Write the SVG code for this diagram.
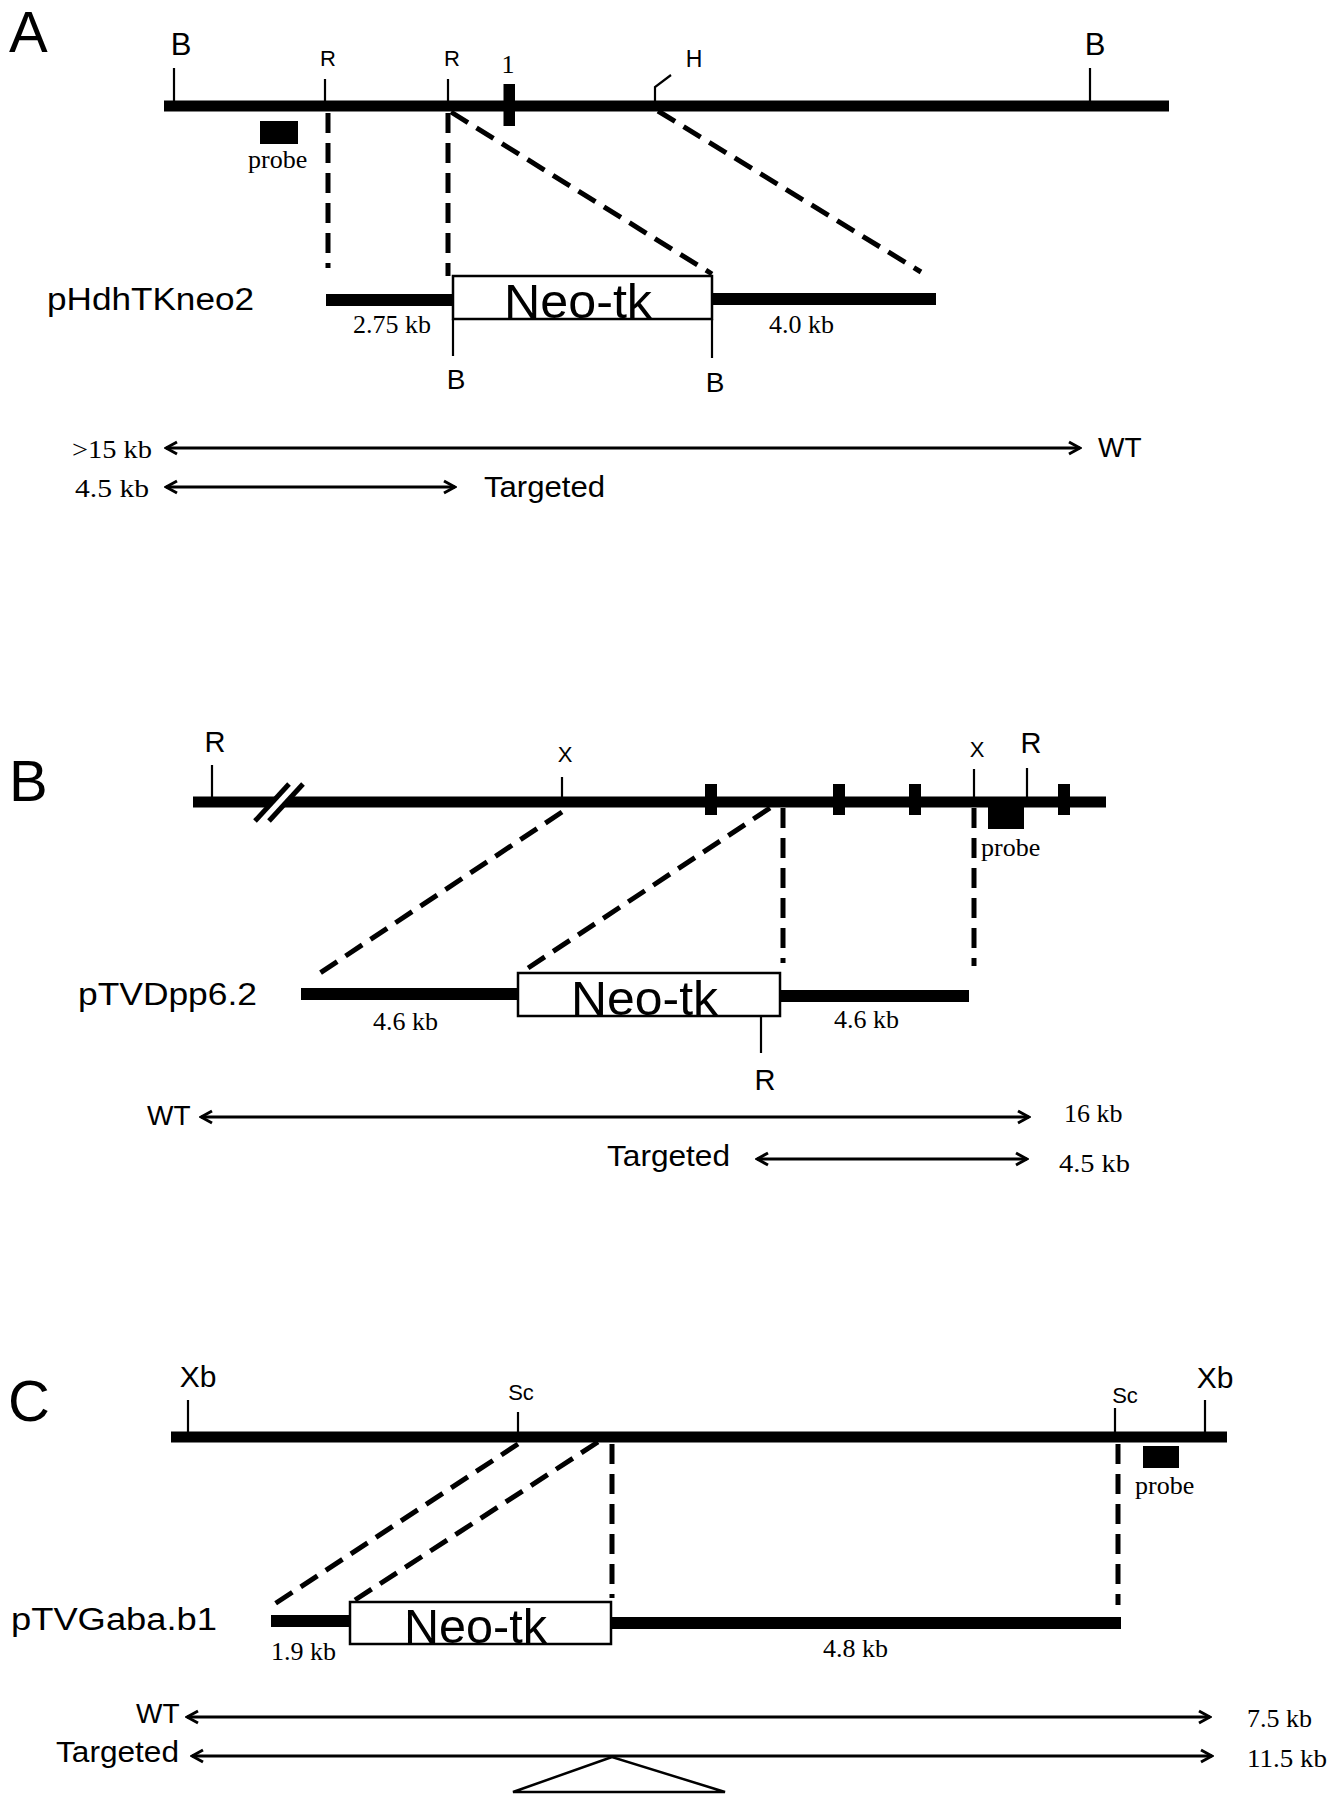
<svg xmlns="http://www.w3.org/2000/svg" width="1335" height="1800" viewBox="0 0 1335 1800">
<style>
.bg{fill:#fff}
.chrom{stroke:#000;stroke-width:11;fill:none}
.vec{stroke:#000;stroke-width:12;fill:none}
.tick{stroke:#000;stroke-width:2.2;fill:none}
.dash{stroke:#000;stroke-width:5;stroke-dasharray:20 10;fill:none}
.arr{stroke:#000;stroke-width:3;fill:none;marker-start:url(#ah);marker-end:url(#ah)}
.box{fill:#fff;stroke:#000;stroke-width:2.5}
.blk{fill:#000}
.sans{font-family:"Liberation Sans",Arial,sans-serif;fill:#000}
.serif{font-family:"Liberation Serif","Times New Roman",serif;fill:#000}
.panel{font-size:58px}
.mid{text-anchor:middle}
.kb{font-size:26px}
.neo{font-size:49px}
</style>
<defs>
<marker id="ah" markerUnits="userSpaceOnUse" viewBox="-13 -8 15 16" refX="0" refY="0" markerWidth="15" markerHeight="16" orient="auto-start-reverse">
<path d="M-11,-6 L0,0 L-11,6" stroke="#000" stroke-width="3" fill="none"/>
</marker>
</defs>
<rect class="bg" x="0" y="0" width="1335" height="1800"/>

<!-- ===== Panel A ===== -->
<text class="sans panel" x="9" y="52">A</text>
<g id="A-genomic">
<line class="chrom" x1="164" y1="106" x2="1169" y2="106"/>
<line class="tick" x1="174" y1="68" x2="174" y2="106"/>
<line class="tick" x1="325" y1="79" x2="325" y2="106"/>
<line class="tick" x1="448" y1="79" x2="448" y2="106"/>
<line class="tick" x1="1090" y1="68" x2="1090" y2="106"/>
<path class="tick" d="M655,106 L655,87 L671,75"/>
<rect class="blk" x="503.5" y="84" width="11.5" height="42"/>
<text class="sans mid" x="181" y="55" font-size="31">B</text>
<text class="sans mid" x="328" y="66" font-size="22">R</text>
<text class="sans mid" x="452" y="66" font-size="22">R</text>
<text class="serif mid" x="508" y="73" font-size="26">1</text>
<text class="sans mid" x="694" y="67" font-size="23">H</text>
<text class="sans mid" x="1095" y="55" font-size="31">B</text>
</g>
<g id="A-probe">
<rect class="blk" x="260" y="121" width="38" height="23"/>
<text class="serif kb" x="248" y="168">probe</text>
</g>
<g id="A-vector">
<text class="sans" x="47" y="310" font-size="31" textLength="207" lengthAdjust="spacingAndGlyphs">pHdhTKneo2</text>
<line class="vec" x1="326" y1="300" x2="453" y2="300"/>
<line class="vec" x1="712" y1="299" x2="936" y2="299"/>
<rect class="box" x="453" y="276" width="259" height="43"/>
<text class="sans neo" x="504" y="318" textLength="148" lengthAdjust="spacingAndGlyphs">Neo-tk</text>
<line class="tick" x1="453" y1="319" x2="453" y2="356"/>
<line class="tick" x1="712" y1="319" x2="712" y2="358"/>
<text class="sans mid" x="456" y="389" font-size="28">B</text>
<text class="sans mid" x="715" y="392" font-size="28">B</text>
<text class="serif kb" x="353" y="333">2.75 kb</text>
<text class="serif kb" x="769" y="333">4.0 kb</text>
</g>
<g id="A-fragments">
<text class="serif kb" x="72" y="458" textLength="80" lengthAdjust="spacingAndGlyphs">&gt;15 kb</text>
<text class="sans" x="1098" y="457" font-size="28">WT</text>
<text class="serif kb" x="75" y="497" textLength="74" lengthAdjust="spacingAndGlyphs">4.5 kb</text>
<text class="sans" x="484" y="497" font-size="29" textLength="121" lengthAdjust="spacingAndGlyphs">Targeted</text>
</g>

<!-- ===== Panel B ===== -->
<text class="sans panel" x="9" y="801">B</text>
<g id="B-genomic">
<line class="chrom" x1="193" y1="802" x2="1106" y2="802"/>
<polygon fill="#fff" points="255,820 288,785 302,785 269,820"/>
<line stroke="#000" stroke-width="5" x1="255" y1="821" x2="289" y2="784"/>
<line stroke="#000" stroke-width="5" x1="269" y1="821" x2="303" y2="784"/>
<line class="tick" x1="212" y1="765" x2="212" y2="802"/>
<line class="tick" x1="562" y1="777" x2="562" y2="802"/>
<line class="tick" x1="974" y1="769" x2="974" y2="802"/>
<line class="tick" x1="1027" y1="768" x2="1027" y2="802"/>
<rect class="blk" x="705" y="784" width="12" height="31"/>
<rect class="blk" x="833" y="784" width="12" height="31"/>
<rect class="blk" x="909" y="784" width="12" height="31"/>
<rect class="blk" x="1058" y="784" width="12" height="31"/>
<text class="sans mid" x="215" y="752" font-size="29">R</text>
<text class="sans mid" x="565" y="762" font-size="22">X</text>
<text class="sans mid" x="977" y="757" font-size="22">X</text>
<text class="sans mid" x="1031" y="753" font-size="29">R</text>
</g>
<g id="B-probe">
<rect class="blk" x="988" y="807" width="36" height="22"/>
<text class="serif kb" x="981" y="856">probe</text>
</g>
<g id="B-vector">
<text class="sans" x="78" y="1005" font-size="31" textLength="179" lengthAdjust="spacingAndGlyphs">pTVDpp6.2</text>
<line class="vec" x1="301" y1="994" x2="518" y2="994"/>
<line class="vec" x1="781" y1="996" x2="969" y2="996"/>
<rect class="box" x="518" y="973" width="262" height="43"/>
<text class="sans neo" x="571" y="1015" textLength="147" lengthAdjust="spacingAndGlyphs">Neo-tk</text>
<line class="tick" x1="761" y1="1016" x2="761" y2="1053"/>
<text class="sans mid" x="765" y="1090" font-size="29">R</text>
<text class="serif kb" x="373" y="1030">4.6 kb</text>
<text class="serif kb" x="834" y="1028">4.6 kb</text>
</g>
<g id="B-fragments">
<text class="sans" x="147" y="1125" font-size="28">WT</text>
<text class="serif kb" x="1064" y="1122">16 kb</text>
<text class="sans" x="607" y="1166" font-size="29" textLength="123" lengthAdjust="spacingAndGlyphs">Targeted</text>
<text class="serif kb" x="1059" y="1172" textLength="71" lengthAdjust="spacingAndGlyphs">4.5 kb</text>
</g>

<!-- ===== Panel C ===== -->
<text class="sans panel" x="8" y="1421">C</text>
<g id="C-genomic">
<line class="chrom" x1="171" y1="1437" x2="1227" y2="1437"/>
<line class="tick" x1="188" y1="1400" x2="188" y2="1437"/>
<line class="tick" x1="518" y1="1412" x2="518" y2="1437"/>
<line class="tick" x1="1115" y1="1408" x2="1115" y2="1437"/>
<line class="tick" x1="1205" y1="1400" x2="1205" y2="1437"/>
<text class="sans mid" x="198" y="1387" font-size="30">Xb</text>
<text class="sans mid" x="521" y="1400" font-size="22">Sc</text>
<text class="sans mid" x="1125" y="1403" font-size="22">Sc</text>
<text class="sans mid" x="1215" y="1388" font-size="30">Xb</text>
</g>
<g id="C-probe">
<rect class="blk" x="1143" y="1446" width="36" height="22"/>
<text class="serif kb" x="1135" y="1494">probe</text>
</g>
<g id="C-vector">
<text class="sans" x="11" y="1630" font-size="31" textLength="206" lengthAdjust="spacingAndGlyphs">pTVGaba.b1</text>
<line class="vec" x1="271" y1="1621" x2="350" y2="1621"/>
<line class="vec" x1="611" y1="1623" x2="1121" y2="1623"/>
<rect class="box" x="350" y="1602" width="261" height="42"/>
<text class="sans neo" x="404" y="1643" textLength="143" lengthAdjust="spacingAndGlyphs">Neo-tk</text>
<text class="serif kb" x="271" y="1660">1.9 kb</text>
<text class="serif kb" x="823" y="1657">4.8 kb</text>
</g>
<g id="C-fragments">
<text class="sans" x="136" y="1723" font-size="28">WT</text>
<text class="serif kb" x="1247" y="1727">7.5 kb</text>
<text class="sans" x="56" y="1762" font-size="29" textLength="123" lengthAdjust="spacingAndGlyphs">Targeted</text>
<text class="serif kb" x="1247" y="1767" textLength="80" lengthAdjust="spacingAndGlyphs">11.5 kb</text>
</g>

<!-- ===== Connectors ===== -->
<g id="connectors">
<line class="dash" x1="328" y1="113" x2="328" y2="268"/>
<line class="dash" x1="448" y1="113" x2="448" y2="276"/>
<line class="dash" x1="451" y1="112" x2="712" y2="274"/>
<line class="dash" x1="658" y1="111" x2="921" y2="272"/>
<line class="arr" x1="166" y1="448" x2="1080" y2="448"/>
<line class="arr" x1="166" y1="487" x2="455" y2="487"/>

<line class="dash" x1="562" y1="812" x2="317" y2="975"/>
<line class="dash" x1="770" y1="808" x2="522" y2="972"/>
<line class="dash" x1="783" y1="808" x2="783" y2="963"/>
<line class="dash" x1="974" y1="808" x2="974" y2="966"/>
<line class="arr" x1="201" y1="1117" x2="1029" y2="1117"/>
<line class="arr" x1="757" y1="1159" x2="1027" y2="1159"/>

<line class="dash" x1="518" y1="1444" x2="273" y2="1605"/>
<line class="dash" x1="598" y1="1442" x2="355" y2="1600"/>
<line class="dash" x1="612" y1="1444" x2="612" y2="1598"/>
<line class="dash" x1="1118" y1="1444" x2="1118" y2="1605"/>
<line class="arr" x1="187" y1="1717" x2="1210" y2="1717"/>
<line class="arr" x1="192" y1="1756" x2="1212" y2="1756"/>
</g>
<g id="C-insert-triangle">
<polygon class="box" points="612,1757 513,1792 725,1792"/>
</g>
</svg>
